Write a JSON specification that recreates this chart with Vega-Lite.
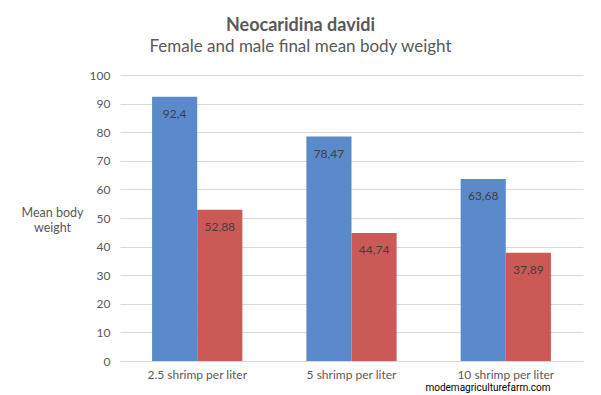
{
  "$schema": "https://vega.github.io/schema/vega-lite/v6.json",
  "width": 463,
  "height": 286,
  "autosize": {"type": "none"},
  "padding": {"left": 120, "top": 75, "right": 18, "bottom": 34},
  "background": "white",
  "config": {
    "font": "Lato",
    "view": {"stroke": null}
  },
  "title": {
    "text": "Neocaridina davidi",
    "subtitle": "Female and male final mean body weight",
    "anchor": "middle",
    "dx": -51,
    "offset": 14,
    "font": "Lato",
    "fontSize": 18,
    "fontWeight": "bold",
    "color": "#595959",
    "subtitleFont": "Lato",
    "subtitleFontSize": 17,
    "subtitleColor": "#595959",
    "subtitlePadding": 4
  },
  "data": {
    "values": [
      {"density": "2.5 shrimp per liter", "sex": "Female", "weight": 92.4, "label": "92,4"},
      {"density": "2.5 shrimp per liter", "sex": "Male", "weight": 52.88, "label": "52,88"},
      {"density": "5 shrimp per liter", "sex": "Female", "weight": 78.47, "label": "78,47"},
      {"density": "5 shrimp per liter", "sex": "Male", "weight": 44.74, "label": "44,74"},
      {"density": "10 shrimp per liter", "sex": "Female", "weight": 63.68, "label": "63,68"},
      {"density": "10 shrimp per liter", "sex": "Male", "weight": 37.89, "label": "37,89"}
    ]
  },
  "encoding": {
    "x": {
      "field": "density",
      "type": "nominal",
      "sort": null,
      "scale": {"paddingInner": 0.415, "paddingOuter": 0.208},
      "axis": {
        "title": "modemagriculturefarm.com",
        "titleFont": "Roboto",
        "titleFontSize": 10,
        "titleFontWeight": "normal",
        "titleColor": "#000000",
        "titleAnchor": null,
        "titleAlign": "right",
        "titleBaseline": "middle",
        "titleX": 430,
        "titleY": 26,
        "labelAngle": 0,
        "labelFontSize": 12,
        "labelColor": "#595959",
        "labelPadding": 8,
        "ticks": false,
        "domain": true,
        "domainColor": "#D9D9D9",
        "grid": false
      }
    },
    "xOffset": {"field": "sex", "type": "nominal", "sort": ["Female", "Male"], "scale": {"paddingInner": 0, "paddingOuter": 0}},
    "y": {
      "field": "weight",
      "type": "quantitative",
      "scale": {"domain": [0, 100], "nice": false},
      "axis": {
        "values": [0, 10, 20, 30, 40, 50, 60, 70, 80, 90, 100],
        "title": ["Mean body", "weight"],
        "titleAngle": 0,
        "titleAlign": "center",
        "titleBaseline": "middle",
        "titleX": -68,
        "titleY": 137,
        "titleFont": "Lato",
        "titleFontSize": 12.5,
        "titleFontWeight": "normal",
        "titleColor": "#595959",
        "titleLineHeight": 15,
        "labelFontSize": 12,
        "labelColor": "#595959",
        "labelPadding": 10,
        "ticks": false,
        "domain": false,
        "grid": true,
        "gridColor": "#D9D9D9",
        "gridWidth": 1
      }
    }
  },
  "layer": [
    {
      "mark": {"type": "bar"},
      "encoding": {
        "color": {
          "field": "sex",
          "type": "nominal",
          "scale": {"domain": ["Female", "Male"], "range": ["#5A8AC9", "#CB5A56"]},
          "legend": null
        }
      }
    },
    {
      "mark": {"type": "text", "baseline": "middle", "dy": 17, "fontSize": 12, "color": "#404040", "font": "Lato"},
      "encoding": {"text": {"field": "label", "type": "nominal"}}
    }
  ]
}
